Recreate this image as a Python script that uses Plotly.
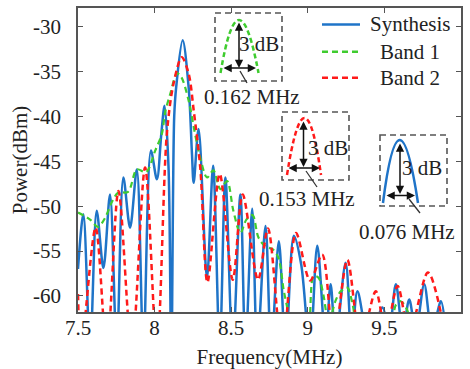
import plotly.graph_objects as go

# ---------------- data ----------------
blue_f = [7.500, 7.535, 7.579, 7.622, 7.666, 7.709, 7.753, 7.796, 7.840, 7.884,
          7.927, 7.976, 8.015, 8.044, 8.065, 8.091, 8.109, 8.128, 8.141, 8.183,
          8.222, 8.244, 8.255, 8.287, 8.342, 8.382,
          8.425, 8.462, 8.510, 8.560, 8.593, 8.637, 8.670, 8.724, 8.761, 8.811,
          8.855, 8.909, 8.957, 9.014, 9.062, 9.116, 9.149, 9.182, 9.247, 9.287,
          9.324, 9.400, 9.488, 9.530, 9.575, 9.620, 9.662, 9.705, 9.760, 9.810,
          9.869, 9.900]
blue_v = [-57.0, -50.9, -66.0, -50.5, -56.9, -48.7, -66.0, -46.8, -52.4, -45.9,
          -66.0, -43.8, -47.0, -41.9, -38.8, -45.7, -68.0, -40.0, -36.7, -31.5,
          -36.7, -44.2, -47.4, -41.4, -58.0, -45.5,
          -66.0, -46.8, -66.0, -48.7, -66.0, -50.3, -66.0, -52.2, -66.0, -53.9,
          -66.0, -53.3, -56.5, -66.0, -54.4, -65.0, -58.7, -65.0, -56.3, -65.0,
          -59.5, -65.0, -61.3, -64.0, -58.7, -64.0, -60.4, -64.0, -58.7, -64.0,
          -60.6, -64.0]

green_f = [7.500, 7.579, 7.631, 7.677, 7.722, 7.762, 7.827, 7.884, 7.945, 8.004,
           8.048, 8.069, 8.102, 8.146, 8.174, 8.222, 8.259, 8.298, 8.342, 8.384,
           8.429, 8.473, 8.514, 8.560, 8.599, 8.639, 8.678, 8.724, 8.770, 8.809,
           8.842, 8.874, 8.907, 8.986, 9.038, 9.071, 9.103, 9.136, 9.182, 9.215,
           9.258, 9.293, 9.332, 9.411, 9.530, 9.575, 9.607, 9.647, 9.686, 9.740]
green_v = [-50.7, -51.5, -52.3, -51.3, -49.5, -48.5, -48.4, -45.9, -46.2, -43.8,
           -41.9, -39.5, -37.5, -35.2, -35.6, -38.2, -41.5, -44.6, -46.8, -46.0,
           -48.1, -47.2, -50.5, -53.0, -51.5, -51.0, -53.5, -54.5, -54.8, -55.8,
           -59.3, -62.0, -65.0, -65.0, -57.8, -58.0, -60.0, -63.0, -60.5, -59.5,
           -59.1, -61.0, -64.0, -64.0, -64.0, -61.0, -60.6, -61.5, -64.0, -65.0]

red_f = [7.500, 7.520, 7.615, 7.688, 7.764, 7.851, 7.938, 8.015, 8.080, 8.124,
         8.177, 8.222, 8.255, 8.298, 8.345, 8.425, 8.510, 8.575, 8.675, 8.740,
         8.833, 8.923, 9.015, 9.094, 9.169, 9.258, 9.346, 9.444, 9.509, 9.586,
         9.663, 9.784, 9.870, 9.900]
red_v = [-59.8, -66.0, -52.4, -66.0, -48.3, -66.0, -45.7, -66.0, -41.9, -36.3,
         -33.4, -35.2, -39.3, -45.7, -58.5, -46.4, -58.2, -48.7, -58.2, -52.5,
         -66.0, -53.0, -58.3, -55.4, -65.0, -56.0, -65.0, -59.5, -64.0, -58.9,
         -64.0, -57.4, -62.0, -66.0]

x_ticks = [7.5, 8, 8.5, 9, 9.5, 10]
x_tick_text = ["7.5", "8", "8.5", "9", "9.5", "10"]
y_ticks = [-60, -55, -50, -45, -40, -35, -30]
y_tick_text = ["-60", "-55", "-50", "-45", "-40", "-35", "-30"]

names = ["Synthesis", "Band 1", "Band 2"]
colors = ["#1f74c8", "#3fcc2f", "#ff1a1a"]

# ---------------- layout helpers (pixel -> paper) ----------------
W, H = 470, 369
L, R, T, B = 78, 461, 8, 312


def px(x):
    return (x - L) / (R - L)


def py(y):
    return (B - y) / (B - T)


FONT = "Liberation Serif"
FS = 21

fig = go.Figure()
fig.add_trace(go.Scatter(x=blue_f, y=blue_v, mode="lines", name=names[0],
                         line=dict(color=colors[0], width=2.5, shape="spline", smoothing=0.9)))
fig.add_trace(go.Scatter(x=green_f, y=green_v, mode="lines", name=names[1],
                         line=dict(color=colors[1], width=2.2, dash="6px,4px", shape="spline", smoothing=0.9)))
fig.add_trace(go.Scatter(x=red_f, y=red_v, mode="lines", name=names[2],
                         line=dict(color=colors[2], width=2.5, dash="6px,4px", shape="spline", smoothing=0.9)))

shapes = []
annotations = []

# legend (manual, centred text like the reference)
leg_y = [24.5, 51.7, 77.7]
leg_dash = ["solid", "6px,4px", "6px,4px"]
for i in range(3):
    shapes.append(dict(type="line", xref="paper", yref="paper",
                       x0=px(322), x1=px(360), y0=py(leg_y[i]), y1=py(leg_y[i]),
                       line=dict(color=colors[i], width=2.5, dash=leg_dash[i])))
    annotations.append(dict(xref="paper", yref="paper", x=px(410), y=py(leg_y[i]),
                            text=names[i], showarrow=False, xanchor="center", yanchor="middle",
                            font=dict(family=FONT, size=FS, color="#222")))

# insets: box, curve, arrows, labels
insets = [
    dict(box=(215, 13, 282, 81), apex=(238.5, 20), base=(220.5, 258.5, 73), color=colors[1], dash="5px,3px",
         vx=239, vy0=21, vy1=68, hy=68, hx0=222, hx1=256, txt=(259, 44),
         lead=(240, 71, 247, 83), label="0.162 MHz", lab=(252, 97)),
    dict(box=(282, 112, 349, 180), apex=(305, 118), base=(287, 321, 175), color=colors[2], dash="5px,3px",
         vx=303.5, vy0=120, vy1=167, hy=168, hx0=287, hx1=320, txt=(328, 148),
         lead=(306, 171, 317, 187), label="0.153 MHz", lab=(307, 199)),
    dict(box=(380, 135, 447, 206), apex=(399, 140), base=(383, 418, 203), color=colors[0], dash="solid",
         vx=400, vy0=142, vy1=194, hy=195.5, hx0=385, hx1=415, txt=(422, 168),
         lead=(409, 199, 420, 213), label="0.076 MHz", lab=(407, 232)),
]

for ins in insets:
    x0, y0, x1, y1 = ins["box"]
    shapes.append(dict(type="rect", xref="paper", yref="paper",
                       x0=px(x0), x1=px(x1), y0=py(y0), y1=py(y1),
                       line=dict(color="#555", width=1.6, dash="6px,4px")))
    ax_, ay_ = ins["apex"]
    bl, br, by = ins["base"]
    cy = 2 * ay_ - by
    path = "M {:.4f},{:.4f} Q {:.4f},{:.4f} {:.4f},{:.4f}".format(
        px(bl), py(by), px(ax_), py(cy), px(br), py(by))
    shapes.append(dict(type="path", xref="paper", yref="paper", path=path,
                       line=dict(color=ins["color"], width=2.5, dash=ins["dash"])))
    # vertical double arrow
    annotations.append(dict(xref="paper", yref="paper", x=px(ins["vx"]), y=py(ins["vy1"]),
                            ax=0, ay=-(ins["vy1"] - ins["vy0"]), text="", showarrow=True,
                            arrowside="end+start", arrowhead=2, arrowsize=1.1, arrowwidth=1.5,
                            arrowcolor="#111"))
    # horizontal double arrow
    annotations.append(dict(xref="paper", yref="paper", x=px(ins["hx1"]), y=py(ins["hy"]),
                            ax=-(ins["hx1"] - ins["hx0"]), ay=0, text="", showarrow=True,
                            arrowside="end+start", arrowhead=2, arrowsize=1.1, arrowwidth=1.5,
                            arrowcolor="#111"))
    tx, ty = ins["txt"]
    annotations.append(dict(xref="paper", yref="paper", x=px(tx), y=py(ty), text="3 dB",
                            showarrow=False, xanchor="center", yanchor="middle",
                            font=dict(family=FONT, size=FS, color="#222")))
    lx0, ly0, lx1, ly1 = ins["lead"]
    shapes.append(dict(type="line", xref="paper", yref="paper",
                       x0=px(lx0), y0=py(ly0), x1=px(lx1), y1=py(ly1),
                       line=dict(color="#333", width=1.3)))
    lbx, lby = ins["lab"]
    annotations.append(dict(xref="paper", yref="paper", x=px(lbx), y=py(lby), text=ins["label"],
                            showarrow=False, xanchor="center", yanchor="middle",
                            font=dict(family=FONT, size=FS, color="#222")))

axis_common = dict(showgrid=False, zeroline=False, showline=True, linecolor="#555", linewidth=1.5,
                   mirror="ticks", ticks="inside", ticklen=5, tickwidth=1.2, tickcolor="#555",
                   automargin=False,
                   tickfont=dict(family=FONT, size=FS, color="#222"))

fig.update_layout(
    width=W, height=H,
    margin=dict(l=L, r=W - R, t=T, b=H - B, autoexpand=False),
    paper_bgcolor="white", plot_bgcolor="white",
    showlegend=False,
    font=dict(family=FONT, size=FS, color="#222"),
    xaxis=dict(range=[7.5, 10], tickvals=x_ticks, ticktext=x_tick_text,
               title=dict(text="Frequency(MHz)", font=dict(family=FONT, size=FS, color="#222"), standoff=11),
               ticklabelstandoff=-4, **axis_common),
    yaxis=dict(range=[-61.8, -27.9], tickvals=y_ticks, ticktext=y_tick_text,
               title=dict(text="Power(dBm)", font=dict(family=FONT, size=FS, color="#222"), standoff=0),
               ticklabelstandoff=11, **axis_common),
    shapes=shapes,
    annotations=annotations,
)

fig.write_html("out.html", config={"displayModeBar": False},
               post_script="document.body.style.margin='0';document.body.style.padding='0';")
